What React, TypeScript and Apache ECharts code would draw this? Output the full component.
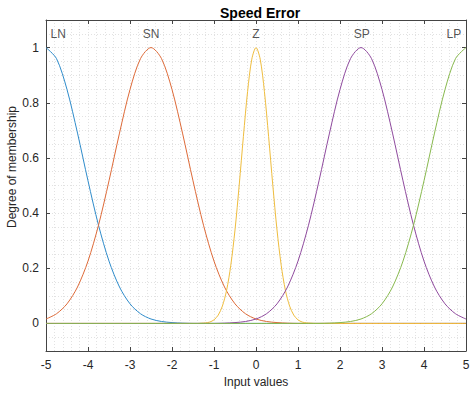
import React, { useEffect, useRef } from "react";
import * as echarts from "echarts";

// Sample positions (input values) for the broad membership functions
const xBroad = [
  -5, -4.75, -4.5, -4.25, -4, -3.75, -3.5, -3.25, -3, -2.75, -2.5, -2.25, -2, -1.75, -1.5, -1.25, -1, -0.75, -0.5, -0.25,
  0, 0.25, 0.5, 0.75, 1, 1.25, 1.5, 1.75, 2, 2.25, 2.5, 2.75, 3, 3.25, 3.5, 3.75, 4, 4.25, 4.5, 4.75, 5,
];

const lnValues = [
  1, 0.96, 0.848, 0.69, 0.517, 0.356, 0.226, 0.132, 0.071, 0.035, 0.016, 0.007, 0.003, 0.001,
  0, 0, 0, 0, 0, 0, 0, 0, 0, 0, 0, 0, 0, 0, 0, 0, 0, 0, 0, 0, 0, 0, 0, 0, 0, 0, 0,
];
const snValues = [
  0.016, 0.035, 0.071, 0.132, 0.226, 0.356, 0.517, 0.69, 0.848, 0.96, 1, 0.96, 0.848, 0.69, 0.517, 0.356, 0.226, 0.132,
  0.071, 0.035, 0.016, 0.007, 0.003, 0.001,
  0, 0, 0, 0, 0, 0, 0, 0, 0, 0, 0, 0, 0, 0, 0, 0, 0,
];
const spValues = [
  0, 0, 0, 0, 0, 0, 0, 0, 0, 0, 0, 0, 0, 0, 0, 0, 0,
  0.001, 0.003, 0.007, 0.016, 0.035, 0.071, 0.132, 0.226, 0.356, 0.517, 0.69, 0.848, 0.96, 1, 0.96, 0.848, 0.69, 0.517,
  0.356, 0.226, 0.132, 0.071, 0.035, 0.016,
];
const lpValues = [
  0, 0, 0, 0, 0, 0, 0, 0, 0, 0, 0, 0, 0, 0, 0, 0, 0, 0, 0, 0, 0, 0, 0, 0, 0, 0, 0,
  0.001, 0.003, 0.007, 0.016, 0.035, 0.071, 0.132, 0.226, 0.356, 0.517, 0.69, 0.848, 0.96, 1,
];

// Narrow "Z" membership function
const xZ = [
  -5, -1.5, -1.4, -1.3, -1.2, -1.1, -1, -0.9, -0.8, -0.7, -0.6, -0.5, -0.4, -0.3, -0.2, -0.1, 0,
  0.1, 0.2, 0.3, 0.4, 0.5, 0.6, 0.7, 0.8, 0.9, 1, 1.1, 1.2, 1.3, 1.4, 1.5, 5,
];
const zValues = [
  0, 0, 0, 0.001, 0.002, 0.005, 0.013, 0.03, 0.063, 0.12, 0.211, 0.339, 0.501, 0.678, 0.841, 0.958, 1,
  0.958, 0.841, 0.678, 0.501, 0.339, 0.211, 0.12, 0.063, 0.03, 0.013, 0.005, 0.002, 0.001, 0, 0, 0,
];

const mfNames = ["LN", "SN", "Z", "SP", "LP"];
const mfLabelX = [-4.71, -2.5, 0, 2.52, 4.71];
const mfLabelY = [1.051, 1.051, 1.051, 1.051, 1.051];
const colors = ["#2f8ccb", "#de6a38", "#efbd3e", "#8f4a9e", "#88b94e"];

const xTicks = [-5, -4, -3, -2, -1, 0, 1, 2, 3, 4, 5];
const yTicks = [0, 0.2, 0.4, 0.6, 0.8, 1];

const titleText = "Speed Error";
const xName = "Input values";
const yName = "Degree of membership";

const pair = (xs: number[], ys: number[]) => xs.map((x, i) => [x, ys[i]]);

export default function App() {
  const ref = useRef<HTMLDivElement>(null);
  useEffect(() => {
    document.body.style.margin = "0";
    if (!ref.current) return;
    const chart = echarts.init(ref.current, undefined, { renderer: "svg" });
    const axisColor = "#444444";
    const textColor = "#262626";
    const font = "Liberation Sans, Arial, Helvetica, sans-serif";
    const gridLine = { show: true, lineStyle: { color: "#e2e2e2", type: [1, 2] as any, width: 1 } };

    const lineSeries = (name: string, data: number[][], color: string) => ({
      type: "line",
      name,
      xAxisIndex: 0,
      yAxisIndex: 0,
      data,
      showSymbol: false,
      symbol: "none",
      smooth: 0.3,
      lineStyle: { color, width: 1 },
      itemStyle: { color },
      z: 3,
    });

    chart.setOption({
      animation: false,
      textStyle: { fontFamily: font },
      title: {
        text: titleText,
        left: 215,
        top: 1,
        textStyle: { fontSize: 14, fontWeight: "bold", color: "#000", fontFamily: font },
      },
      grid: { left: 46, right: 8, top: 20, bottom: 45, containLabel: false, outerBoundsMode: "none" },
      xAxis: [
        {
          type: "value",
          position: "bottom",
          min: -5,
          max: 5,
          interval: 1,
          axisLine: { show: true, onZero: false, lineStyle: { color: axisColor, width: 1 } },
          axisTick: { show: true, inside: true, length: 4, lineStyle: { color: axisColor } },
          axisLabel: {
            show: true,
            margin: 8,
            color: textColor,
            fontSize: 12,
            fontFamily: font,
            customValues: xTicks,
          },
          splitLine: { show: false },
          name: xName,
          nameLocation: "middle",
          nameGap: 25,
          nameTextStyle: { color: textColor, fontSize: 12, fontFamily: font },
        },
        {
          type: "value",
          position: "top",
          min: -5,
          max: 5,
          interval: 1,
          axisLine: { show: true, onZero: false, lineStyle: { color: axisColor, width: 1 } },
          axisTick: { show: true, inside: true, length: 4, lineStyle: { color: axisColor } },
          axisLabel: { show: false },
          splitLine: { show: false },
        },
        {
          type: "value",
          position: "bottom",
          min: -5,
          max: 5,
          interval: 0.2,
          axisLine: { show: false },
          axisTick: { show: false },
          axisLabel: { show: false },
          splitLine: gridLine,
          z: 0,
        },
      ],
      yAxis: [
        {
          type: "value",
          position: "left",
          min: -0.1,
          max: 1.1,
          interval: 0.1,
          axisLine: { show: true, onZero: false, lineStyle: { color: axisColor, width: 1 } },
          axisTick: { show: true, inside: true, length: 4, lineStyle: { color: axisColor }, customValues: yTicks },
          axisLabel: {
            show: true,
            margin: 7,
            color: textColor,
            fontSize: 12,
            fontFamily: font,
            customValues: yTicks,
            formatter: (v: number) => String(Math.round(v * 10) / 10),
          },
          splitLine: { show: false },
        },
        {
          type: "value",
          position: "right",
          min: -0.1,
          max: 1.1,
          interval: 0.1,
          axisLine: { show: true, onZero: false, lineStyle: { color: axisColor, width: 1 } },
          axisTick: { show: true, inside: true, length: 4, lineStyle: { color: axisColor }, customValues: yTicks },
          axisLabel: { show: false },
          splitLine: { show: false },
        },
        {
          type: "value",
          position: "left",
          min: -0.1,
          max: 1.1,
          interval: 0.05,
          axisLine: { show: false },
          axisTick: { show: false },
          axisLabel: { show: false },
          splitLine: gridLine,
          z: 0,
        },
      ],
      graphic: [
        {
          type: "text",
          x: 12,
          y: 167,
          rotation: Math.PI / 2,
          style: {
            text: yName,
            fill: textColor,
            fontSize: 12,
            fontFamily: font,
            align: "center",
            verticalAlign: "middle",
          },
        },
      ],
      series: [
        lineSeries("LN", pair(xBroad, lnValues), colors[0]),
        lineSeries("SN", pair(xBroad, snValues), colors[1]),
        lineSeries("Z", pair(xZ, zValues), colors[2]),
        lineSeries("SP", pair(xBroad, spValues), colors[3]),
        lineSeries("LP", pair(xBroad, lpValues), colors[4]),
        {
          type: "scatter",
          xAxisIndex: 0,
          yAxisIndex: 0,
          symbolSize: 0,
          silent: true,
          data: mfNames.map((n, i) => ({ name: n, value: [mfLabelX[i], mfLabelY[i]] })),
          label: {
            show: true,
            position: "inside",
            formatter: (p: any) => p.name,
            color: textColor,
            fontSize: 12,
            fontFamily: font,
          },
          z: 4,
        },
      ],
    });
    return () => chart.dispose();
  }, []);
  return <div ref={ref} style={{ width: 474, height: 396 }} />;
}
